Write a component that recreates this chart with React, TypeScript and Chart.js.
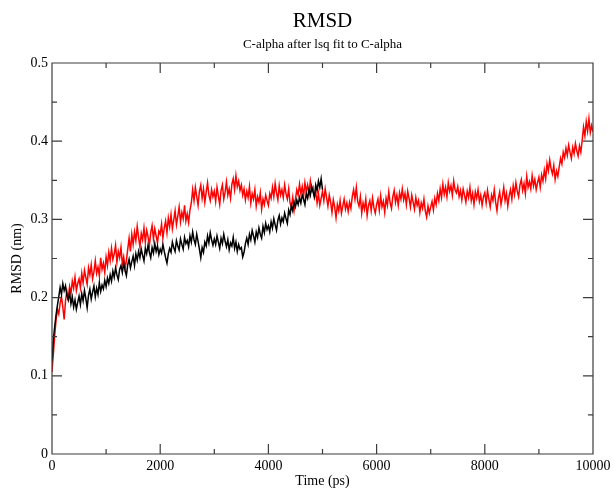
import React, { useEffect, useRef } from "react";
import { Chart, registerables } from "chart.js";

Chart.register(...registerables);

// Time step between stored frames (ps)
const TIME_STEP_PS = 25;

// Red series: RMSD (nm), one value every 25 ps from 0 to 10000 ps
const redRmsd = [
  0.105, 0.128, 0.152, 0.171, 0.185, 0.179, 0.193, 0.201, 0.188, 0.172, 0.196, 0.208, 0.199, 0.214, 0.205, 0.221, 0.212, 0.226, 0.209, 0.218,
  0.224, 0.213, 0.231, 0.219, 0.235, 0.226, 0.217, 0.238, 0.229, 0.242, 0.224, 0.233, 0.247, 0.231, 0.239, 0.228, 0.251, 0.236, 0.244, 0.232,
  0.252, 0.241, 0.258, 0.247, 0.263, 0.249, 0.256, 0.267, 0.245, 0.259, 0.251, 0.264, 0.243, 0.252, 0.238, 0.247, 0.262, 0.276, 0.259, 0.281,
  0.268, 0.284, 0.273, 0.291, 0.277, 0.265, 0.282, 0.274, 0.289, 0.271, 0.286, 0.278, 0.267, 0.283, 0.292, 0.275, 0.288, 0.279, 0.27, 0.285,
  0.281, 0.294, 0.276, 0.289, 0.298, 0.283, 0.302, 0.291, 0.306, 0.288, 0.299, 0.311, 0.293, 0.304, 0.316, 0.297, 0.309, 0.301, 0.318, 0.298,
  0.307, 0.296, 0.312, 0.321, 0.338, 0.324, 0.341, 0.329, 0.318, 0.336, 0.344, 0.327, 0.339, 0.322, 0.335, 0.347, 0.331, 0.324, 0.338, 0.329,
  0.336, 0.323, 0.341, 0.33, 0.319, 0.337, 0.344, 0.326, 0.335, 0.348, 0.331, 0.339, 0.327, 0.345, 0.352, 0.338, 0.356, 0.342, 0.349, 0.337,
  0.344, 0.331, 0.339, 0.325, 0.336, 0.328, 0.342, 0.321, 0.333, 0.326, 0.338, 0.317, 0.329, 0.322, 0.334, 0.313, 0.326, 0.319, 0.331, 0.324,
  0.318, 0.333, 0.327, 0.341, 0.329, 0.346, 0.334, 0.325, 0.343, 0.331, 0.338, 0.328, 0.344, 0.333, 0.326, 0.339, 0.321, 0.315, 0.328, 0.312,
  0.326, 0.338, 0.331, 0.345, 0.333, 0.342, 0.329, 0.347, 0.336, 0.344, 0.332, 0.349, 0.337, 0.341, 0.328, 0.335, 0.321, 0.333, 0.318, 0.327,
  0.336, 0.324, 0.339, 0.328, 0.317, 0.331, 0.322, 0.309, 0.325, 0.316, 0.302, 0.319, 0.311, 0.324, 0.308, 0.317, 0.326, 0.313, 0.321, 0.31,
  0.322, 0.314, 0.329, 0.338, 0.326, 0.341, 0.323, 0.317, 0.329, 0.308, 0.321, 0.313, 0.326, 0.305, 0.318, 0.324, 0.311, 0.327, 0.315, 0.308,
  0.319, 0.326, 0.312, 0.33, 0.316, 0.323, 0.309, 0.327, 0.318, 0.335, 0.321, 0.314, 0.329, 0.337, 0.322, 0.331, 0.318, 0.334, 0.326, 0.339,
  0.325, 0.333, 0.319, 0.336, 0.327, 0.316, 0.331, 0.322, 0.313, 0.328, 0.318, 0.324, 0.309, 0.321, 0.314, 0.326, 0.311, 0.303, 0.317, 0.308,
  0.316, 0.323, 0.312, 0.327, 0.319, 0.333, 0.324, 0.339, 0.328, 0.345, 0.332, 0.341, 0.329, 0.347, 0.336, 0.343, 0.331, 0.349, 0.338, 0.334,
  0.342, 0.329, 0.337, 0.325, 0.339, 0.331, 0.322, 0.336, 0.328, 0.341, 0.324, 0.333, 0.319, 0.335, 0.327, 0.338, 0.323, 0.331, 0.318, 0.329,
  0.334, 0.321, 0.337, 0.326, 0.316, 0.331, 0.324, 0.338, 0.322, 0.311, 0.327, 0.335, 0.319, 0.329, 0.341, 0.324, 0.333, 0.317, 0.33, 0.338,
  0.326, 0.343, 0.332, 0.347, 0.336, 0.329, 0.344, 0.351, 0.337, 0.346, 0.333, 0.355, 0.341, 0.348, 0.339, 0.356, 0.343, 0.351, 0.338, 0.347,
  0.354, 0.341, 0.357, 0.349, 0.363, 0.352, 0.371, 0.362, 0.376, 0.365, 0.358, 0.369, 0.351, 0.362, 0.355, 0.367, 0.378, 0.371, 0.386, 0.379,
  0.391, 0.382, 0.395, 0.386, 0.378, 0.392, 0.384, 0.397, 0.388, 0.381, 0.394, 0.386, 0.401, 0.418, 0.407, 0.425, 0.413, 0.429, 0.411, 0.42,
  0.412,
];

// Black series: RMSD (nm), one value every 25 ps from 0 to 5000 ps
const blackRmsd = [
  0.118, 0.146, 0.163, 0.178, 0.19, 0.201, 0.213, 0.204, 0.218, 0.209, 0.215, 0.203, 0.197, 0.206, 0.192, 0.201, 0.188, 0.197, 0.185, 0.194,
  0.202, 0.191, 0.205, 0.196, 0.209, 0.199, 0.187, 0.203, 0.211, 0.198, 0.207, 0.215, 0.201, 0.212, 0.204, 0.219, 0.208, 0.216, 0.211, 0.222,
  0.214, 0.225, 0.218, 0.229, 0.221, 0.234, 0.226, 0.238, 0.229, 0.223, 0.236, 0.241, 0.232, 0.244, 0.235, 0.228, 0.242, 0.249, 0.238, 0.246,
  0.253, 0.241, 0.256, 0.248, 0.259, 0.251, 0.262, 0.254, 0.247, 0.263, 0.256, 0.267, 0.258, 0.251, 0.264, 0.257, 0.269, 0.259, 0.266, 0.255,
  0.262, 0.257, 0.268, 0.259, 0.251, 0.244, 0.256, 0.263, 0.258, 0.271, 0.264, 0.259, 0.273, 0.266, 0.261, 0.275, 0.268, 0.262, 0.277, 0.269,
  0.273, 0.265, 0.279, 0.271, 0.284, 0.274, 0.268, 0.281, 0.272, 0.262, 0.251, 0.264, 0.258, 0.271, 0.266, 0.279, 0.27, 0.283, 0.274, 0.267,
  0.275, 0.268, 0.279, 0.271, 0.263, 0.276, 0.269, 0.281, 0.272, 0.265, 0.274, 0.261, 0.27, 0.266, 0.277, 0.263, 0.271, 0.259, 0.268, 0.262,
  0.264, 0.252, 0.258, 0.269, 0.276, 0.268, 0.281, 0.274, 0.286, 0.279, 0.271, 0.284, 0.277, 0.289, 0.281, 0.276, 0.291, 0.283, 0.295, 0.287,
  0.292, 0.284, 0.297, 0.289, 0.301, 0.293, 0.286, 0.299, 0.305, 0.294, 0.302, 0.297, 0.308, 0.301, 0.295, 0.312, 0.306, 0.318, 0.311, 0.322,
  0.316, 0.325, 0.319, 0.328, 0.321, 0.331, 0.326, 0.319, 0.333, 0.327, 0.338, 0.331, 0.342, 0.335, 0.329, 0.344, 0.337, 0.349, 0.341, 0.352,
  0.338,
];

const xMajorTicks = [0, 2000, 4000, 6000, 8000, 10000];
const xMinorTicks = [1000, 3000, 5000, 7000, 9000];
const yMajorTicks = [0, 0.1, 0.2, 0.3, 0.4, 0.5];
const yMinorTicks = [0.05, 0.15, 0.25, 0.35, 0.45];

const TITLE = "RMSD";
const SUBTITLE = "C-alpha after lsq fit to C-alpha";
const X_TITLE = "Time (ps)";
const Y_TITLE = "RMSD (nm)";

const SERIF = '"Liberation Serif", "Times New Roman", Times, serif';

const frameTicksPlugin = {
  id: "frameTicks",
  afterDatasetsDraw(chart: any) {
    const { ctx, chartArea: a, scales } = chart;
    const x = scales.x;
    const y = scales.y;
    ctx.save();
    ctx.strokeStyle = "#3c3c3c";
    ctx.lineWidth = 1.2;
    ctx.beginPath();
    ctx.rect(a.left, a.top, a.right - a.left, a.bottom - a.top);
    const majorLen = 10;
    const minorLen = 5;
    const xTick = (v: number, len: number) => {
      const px = x.getPixelForValue(v);
      ctx.moveTo(px, a.bottom);
      ctx.lineTo(px, a.bottom - len);
      ctx.moveTo(px, a.top);
      ctx.lineTo(px, a.top + len);
    };
    const yTick = (v: number, len: number) => {
      const py = y.getPixelForValue(v);
      ctx.moveTo(a.left, py);
      ctx.lineTo(a.left + len, py);
      ctx.moveTo(a.right, py);
      ctx.lineTo(a.right - len, py);
    };
    xMajorTicks.forEach((v) => xTick(v, majorLen));
    xMinorTicks.forEach((v) => xTick(v, minorLen));
    yMajorTicks.forEach((v) => yTick(v, majorLen));
    yMinorTicks.forEach((v) => yTick(v, minorLen));
    ctx.stroke();
    ctx.restore();
  },
};

export default function App() {
  const canvasRef = useRef<HTMLCanvasElement | null>(null);

  useEffect(() => {
    document.body.style.margin = "0";
    const canvas = canvasRef.current;
    if (!canvas) return;
    const redTimes = redRmsd.map((_, i) => i * TIME_STEP_PS);
    const blackTimes = blackRmsd.map((_, i) => i * TIME_STEP_PS);

    const tickFont = { family: SERIF, size: 14, weight: "normal" as const };

    const chart = new Chart(canvas, {
      type: "line",
      data: {
        datasets: [
          {
            label: "black",
            data: blackRmsd.map((v, i) => ({ x: blackTimes[i], y: v })),
            borderColor: "#000000",
            borderWidth: 1.5,
            pointRadius: 0,
            tension: 0,
            fill: false,
          },
          {
            label: "red",
            data: redRmsd.map((v, i) => ({ x: redTimes[i], y: v })),
            borderColor: "#ff0000",
            borderWidth: 1.5,
            pointRadius: 0,
            tension: 0,
            fill: false,
          },
        ],
      },
      options: {
        animation: false,
        responsive: false,
        maintainAspectRatio: false,
        events: [],
        layout: { padding: { top: 0, right: 22, bottom: 0, left: 0 } },
        plugins: {
          legend: { display: false },
          tooltip: { enabled: false },
          title: {
            display: true,
            text: TITLE,
            color: "#000",
            fullSize: false,
            font: { family: SERIF, size: 21, weight: "normal" },
            padding: { top: 8.4, bottom: 0 },
          },
          subtitle: {
            display: true,
            text: SUBTITLE,
            color: "#000",
            fullSize: false,
            font: { family: SERIF, size: 13, weight: "normal" },
            padding: { top: 3.6, bottom: 10.2 },
          },
        },
        scales: {
          x: {
            type: "linear",
            min: 0,
            max: 10000,
            afterFit: (s: any) => {
              s.height = 34;
            },
            afterBuildTicks: (s: any) => {
              s.ticks = xMajorTicks.map((v) => ({ value: v }));
            },
            ticks: {
              color: "#000",
              font: tickFont,
              padding: 4,
              maxRotation: 0,
              autoSkip: false,
              callback: (v: any) => String(v),
            },
            grid: { display: false, drawTicks: false },
            border: { display: false },
            title: {
              display: true,
              text: X_TITLE,
              color: "#000",
              font: { family: SERIF, size: 14, weight: "normal" },
              padding: { top: 0, bottom: -1.4 },
            },
          },
          y: {
            type: "linear",
            min: 0,
            max: 0.5,
            afterFit: (s: any) => {
              s.width = 52;
            },
            afterBuildTicks: (s: any) => {
              s.ticks = yMajorTicks.map((v) => ({ value: v }));
            },
            ticks: {
              color: "#000",
              font: tickFont,
              padding: 4,
              autoSkip: false,
              callback: (v: any) => String(Math.round(Number(v) * 10) / 10),
            },
            grid: { display: false, drawTicks: false },
            border: { display: false },
            title: {
              display: true,
              text: Y_TITLE,
              color: "#000",
              font: { family: SERIF, size: 14, weight: "normal" },
              padding: { top: 9, bottom: 0 },
            },
          },
        },
      },
      plugins: [frameTicksPlugin],
    });

    return () => {
      chart.destroy();
    };
  }, []);

  return (
    <div style={{ width: 615, height: 488 }}>
      <canvas ref={canvasRef} width={615} height={488} style={{ display: "block" }} />
    </div>
  );
}
